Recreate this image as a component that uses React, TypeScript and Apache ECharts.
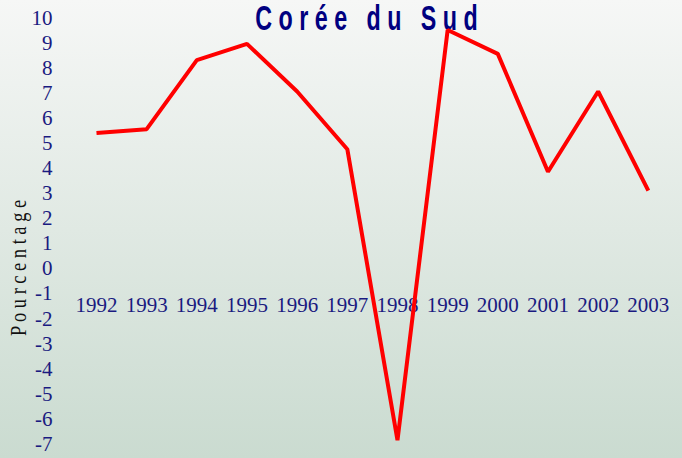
import React, { useEffect, useRef } from "react";
import * as echarts from "echarts";

const years = ["1992", "1993", "1994", "1995", "1996", "1997", "1998", "1999", "2000", "2001", "2002", "2003"];
const growth = [5.4, 5.55, 8.3, 8.95, 7.05, 4.75, -6.85, 9.5, 8.55, 3.85, 7.05, 3.1];
const yMin = -7;
const yMax = 10;
const titleText = "C o r é e   d u   S u d";
const yAxisName = "P o u r c e n t a g e";

export default function App() {
  const ref = useRef<HTMLDivElement>(null);
  useEffect(() => {
    if (!ref.current) return;
    const chart = echarts.init(ref.current, undefined, { renderer: "svg" });
    const gridTop = 17.5;
    const gridBottom = 14;
    const plotH = 458 - gridTop - gridBottom;
    const zeroOffset = -plotH * (0 - yMin) / (yMax - yMin);
    chart.setOption({
      animation: false,
      backgroundColor: {
        type: "linear",
        x: 0, y: 0, x2: 0, y2: 1,
        colorStops: [
          { offset: 0, color: "#f6f7f6" },
          { offset: 1, color: "#cadbd0" },
        ],
      },
      graphic: [
        {
          type: "text",
          x: 366.5,
          y: 0,
          scaleX: 0.665,
          style: {
            text: titleText,
            fill: "#000080",
            font: "bold 35px 'Liberation Sans', Arial, sans-serif",
            lineHeight: 35,
            textAlign: "center",
            textVerticalAlign: "top",
          },
        },
        {
          type: "text",
          x: 18,
          y: 268,
          rotation: Math.PI / 2,
          scaleX: 0.8,
          style: {
            text: yAxisName,
            fill: "#111111",
            font: "23px 'Liberation Serif', 'Times New Roman', serif",
            textAlign: "center",
            textVerticalAlign: "middle",
          },
        },
      ],
      grid: { left: 71.4, right: 8.6, top: gridTop, bottom: gridBottom, containLabel: false, outerBoundsMode: "none" },
      xAxis: {
        type: "category",
        data: years,
        boundaryGap: true,
        position: "bottom",
        offset: zeroOffset,
        axisLine: { show: false, onZero: false },
        axisTick: { show: false },
        axisLabel: {
          color: "#1a1a80",
          fontFamily: "'Liberation Serif', 'Times New Roman', serif",
          fontSize: 21,
          margin: 26,
          interval: 0,
        },
      },
      yAxis: {
        type: "value",
        min: yMin,
        max: yMax,
        interval: 1,
        splitLine: { show: false },
        axisLine: { show: false },
        axisTick: { show: false },
        axisLabel: {
          color: "#1a1a80",
          fontFamily: "'Liberation Serif', 'Times New Roman', serif",
          fontSize: 21,
          margin: 19,
        },
      },
      series: [
        {
          type: "line",
          data: growth,
          showSymbol: false,
          symbol: "none",
          lineStyle: { color: "#ff0000", width: 4 },
        },
      ],
    });
    return () => chart.dispose();
  }, []);
  return <div ref={ref} style={{ position: "absolute", left: 0, top: 0, width: 682, height: 458 }} />;
}
